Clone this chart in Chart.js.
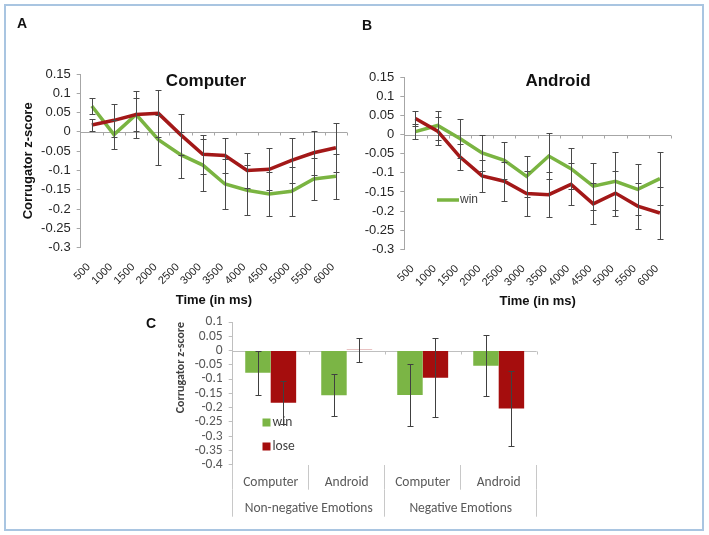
<!DOCTYPE html>
<html><head><meta charset="utf-8">
<script src="https://cdn.jsdelivr.net/npm/chart.js@4.4.1/dist/chart.umd.min.js"></script>
<style>
html,body{margin:0;padding:0;background:#fff;}
#fig{position:relative;width:709px;height:535px;overflow:hidden;background:#fff;}
#frame{position:absolute;left:4px;top:4px;width:696px;height:523px;border:2px solid #a9c5e1;}
canvas{position:absolute;}
.panel{position:absolute;font:bold 14px "Liberation Sans",Arial,sans-serif;line-height:14px;color:#111;}
</style></head><body>
<div id="fig">
<div id="frame"></div>
<canvas id="cA" width="360" height="320" style="left:0;top:0"></canvas>
<canvas id="cB" width="359" height="320" style="left:350px;top:0"></canvas>
<canvas id="cC" width="420" height="235" style="left:140px;top:300px"></canvas>
<div class="panel" style="left:17px;top:16px">A</div>
<div class="panel" style="left:362px;top:18px">B</div>
<div class="panel" style="left:146px;top:316px">C</div>
</div>
<script>
// ---------- data ----------
const timeLabels = ['500','1000','1500','2000','2500','3000','3500','4000','4500','5000','5500','6000'];
const lineTicks = [0.15, 0.1, 0.05, 0, -0.05, -0.1, -0.15, -0.2, -0.25, -0.3];

const computerWin     = [0.067, -0.007, 0.045, -0.020, -0.059, -0.086, -0.135, -0.151, -0.161, -0.154, -0.122, -0.115];
const computerWinErr  = [0.020, 0.038, 0.042, 0.065, 0.060, 0.068, 0.065, 0.064, 0.057, 0.064, 0.055, 0.058];
const computerLose    = [0.018, 0.030, 0.045, 0.048, -0.007, -0.058, -0.061, -0.100, -0.097, -0.074, -0.054, -0.041];
const computerLoseErr = [0.015, 0.042, 0.060, 0.060, 0.053, 0.050, 0.045, 0.046, 0.054, 0.058, 0.057, 0.063];

const androidWin      = [0.008, 0.024, -0.010, -0.048, -0.067, -0.109, -0.056, -0.089, -0.135, -0.122, -0.143, -0.115];
const androidWinErr   = [0.020, 0.038, 0.052, 0.046, 0.049, 0.054, 0.060, 0.054, 0.062, 0.076, 0.066, 0.069];
const androidLose     = [0.042, 0.009, -0.058, -0.108, -0.122, -0.154, -0.157, -0.130, -0.181, -0.153, -0.187, -0.205];
const androidLoseErr  = [0.020, 0.036, 0.034, 0.042, 0.051, 0.058, 0.058, 0.055, 0.054, 0.059, 0.060, 0.067];

const barLabels   = ['Computer', 'Android', 'Computer', 'Android'];
const groupLabels = ['Non-negative Emotions', 'Negative Emotions'];
const barTicks    = [0.1, 0.05, 0, -0.05, -0.1, -0.15, -0.2, -0.25, -0.3, -0.35, -0.4];
const barWin      = [-0.078, -0.157, -0.156, -0.053];
const barWinErr   = [0.077, 0.074, 0.108, 0.108];
const barLose     = [-0.183, 0.003, -0.095, -0.203];
const barLoseErr  = [0.075, 0.042, 0.138, 0.130];

// ---------- styles ----------
const GREEN = '#7ab441', RED = '#a31818';
const GREEN_BAR = '#7bb545', RED_BAR = '#a50d0d';
const ARIAL = '"Liberation Sans", Arial, sans-serif';
const CAL = 'Carlito, Lato, sans-serif';
const fmt = v => Math.abs(v) < 1e-9 ? '0' : String(+v.toFixed(2));

// ---------- plugins ----------
const errorBars = {
  id: 'errorBars',
  afterDatasetsDraw(chart, args, o) {
    const ctx = chart.ctx, ys = chart.scales.y;
    ctx.save();
    ctx.strokeStyle = o.color; ctx.lineWidth = o.width;
    chart.data.datasets.forEach((ds, i) => {
      if (!ds.errors) return;
      chart.getDatasetMeta(i).data.forEach((el, j) => {
        const v = ds.data[j], e = ds.errors[j];
        const x = Math.round(el.x) + 0.5;
        const t = Math.round(ys.getPixelForValue(v + e)) + 0.5;
        const b = Math.round(ys.getPixelForValue(v - e)) + 0.5;
        ctx.beginPath();
        ctx.moveTo(x, t); ctx.lineTo(x, b);
        ctx.moveTo(x - o.cap, t); ctx.lineTo(x + o.cap, t);
        ctx.moveTo(x - o.cap, b); ctx.lineTo(x + o.cap, b);
        ctx.stroke();
      });
    });
    ctx.restore();
  }
};
const zeroAxis = {
  id: 'zeroAxis',
  beforeDatasetsDraw(chart, args, o) {
    const ctx = chart.ctx, xs = chart.scales.x, ca = chart.chartArea;
    const y0 = Math.round(chart.scales.y.getPixelForValue(0)) + 0.5;
    ctx.save();
    ctx.strokeStyle = o.color; ctx.lineWidth = 1;
    ctx.beginPath();
    ctx.moveTo(ca.left, y0); ctx.lineTo(ca.right, y0);
    for (let i = 1; i <= xs.ticks.length; i++) {
      const px = Math.round(xs.getPixelForValue(i - 0.5)) + 0.5;
      ctx.moveTo(px, y0); ctx.lineTo(px, y0 + o.tick);
    }
    ctx.stroke();
    ctx.restore();
  }
};
const overlay = {
  id: 'overlay',
  afterDraw(chart, args, o) {
    const ctx = chart.ctx;
    ctx.save();
    (o.texts || []).forEach(t => {
      ctx.font = t.font; ctx.fillStyle = t.color;
      ctx.textAlign = 'center'; ctx.textBaseline = 'middle';
      ctx.fillText(t.text, t.x, t.y);
    });
    const lg = o.legend;
    if (lg) {
      lg.show.forEach((di, k) => {
        const ds = chart.data.datasets[di];
        const y = lg.y + k * lg.rowGap;
        if (lg.marker === 'line') {
          ctx.strokeStyle = ds.borderColor; ctx.lineWidth = 3.5;
          ctx.beginPath(); ctx.moveTo(lg.x, y); ctx.lineTo(lg.x + lg.len, y); ctx.stroke();
        } else {
          ctx.fillStyle = ds.backgroundColor;
          ctx.fillRect(lg.x, y - lg.len / 2, lg.len, lg.len);
        }
        ctx.font = lg.font; ctx.fillStyle = lg.color;
        ctx.textAlign = 'left'; ctx.textBaseline = 'middle';
        ctx.fillText(ds.label, lg.x + lg.len + lg.gap, y);
      });
    }
    ctx.restore();
  }
};

// ---------- line charts ----------
function lineChart(id, win, winErr, lose, loseErr, L) {
  return new Chart(document.getElementById(id), {
    type: 'line',
    data: {
      labels: timeLabels,
      datasets: [
        { label: 'win', data: win, errors: winErr, borderColor: GREEN, backgroundColor: GREEN,
          borderWidth: 3.5, pointRadius: 0, tension: 0, fill: false, order: 1 },
        { label: 'lose', data: lose, errors: loseErr, borderColor: RED, backgroundColor: RED,
          borderWidth: 3.5, pointRadius: 0, tension: 0, fill: false, order: 0 }
      ]
    },
    options: {
      responsive: false, animation: false, devicePixelRatio: 1,
      layout: { padding: L.pad },
      plugins: {
        legend: { display: false }, tooltip: { enabled: false },
        errorBars: { color: '#4a4a4a', width: 1, cap: 3 },
        zeroAxis: { color: '#a6a6a6', tick: 3 },
        overlay: { texts: [{ text: L.title, x: L.titleX, y: 81, font: 'bold 17px ' + ARIAL, color: '#111' }],
                   legend: L.legend }
      },
      scales: {
        x: {
          type: 'category', offset: true,
          grid: { display: false, drawTicks: false }, border: { display: false },
          ticks: { autoSkip: false, minRotation: 45, maxRotation: 45, padding: 13, labelOffset: -3,
                   color: '#262626', font: { family: ARIAL, size: 11 } },
          title: { display: true, text: 'Time (in ms)', color: '#111', padding: 0,
                   font: { family: ARIAL, size: 13, weight: 'bold' } },
          afterFit: s => { s.height = L.xH; }
        },
        y: {
          min: -0.3, max: 0.15,
          afterBuildTicks: s => { s.ticks = lineTicks.map(v => ({ value: v })); },
          ticks: { autoSkip: false, padding: 6, color: '#262626', font: { family: ARIAL, size: 13 }, callback: v => fmt(v) },
          grid: { drawOnChartArea: false, drawTicks: true, tickLength: 4, color: '#a6a6a6' },
          border: { color: '#a6a6a6' },
          title: { display: L.yTitle, text: 'Corrugator z-score', color: '#111', padding: 0,
                   font: { family: ARIAL, size: 13, weight: 'bold' } },
          afterFit: s => { s.width = L.yW; }
        }
      }
    },
    plugins: [errorBars, zeroAxis, overlay]
  });
}

lineChart('cA', computerWin, computerWinErr, computerLose, computerLoseErr, {
  pad: { left: 20.2, right: 13, top: 74, bottom: 12.2 }, yW: 60.5, xH: 60.1,
  title: 'Computer', titleX: 206, yTitle: true, legend: null
});
lineChart('cB', androidWin, androidWinErr, androidLose, androidLoseErr, {
  pad: { left: 10, right: 38, top: 77.3, bottom: 10.5 }, yW: 44.3, xH: 60.2,
  title: 'Android', titleX: 208, yTitle: false,
  legend: { show: [0], marker: 'line', x: 87, y: 200, len: 22, gap: 1, rowGap: 0,
            font: '12px ' + ARIAL, color: '#404040' }
});

// ---------- bar chart ----------
new Chart(document.getElementById('cC'), {
  type: 'bar',
  data: {
    labels: barLabels,
    datasets: [
      { label: 'win', data: barWin, errors: barWinErr, backgroundColor: GREEN_BAR,
        categoryPercentage: 0.67, barPercentage: 1 },
      { label: 'lose', data: barLose, errors: barLoseErr, backgroundColor: RED_BAR,
        categoryPercentage: 0.67, barPercentage: 1 }
    ]
  },
  options: {
    responsive: false, animation: false, devicePixelRatio: 1,
    layout: { padding: { left: 33.6, right: 23.3, top: 22, bottom: 18.3 } },
    plugins: {
      legend: { display: false }, tooltip: { enabled: false },
      errorBars: { color: '#404040', width: 1, cap: 3 },
      zeroAxis: { color: '#bfbfbf', tick: 3 },
      overlay: { legend: { show: [0, 1], marker: 'box', x: 122.5, y: 122.5, len: 8, gap: 2, rowGap: 24,
                           font: '13.5px ' + CAL, color: '#404040' } }
    },
    scales: {
      x: {
        offset: true,
        grid: { display: true, drawOnChartArea: false, drawTicks: true, tickLength: 25, offset: true, color: '#c8c8c8' },
        border: { display: false },
        ticks: { padding: -15, color: '#595959', font: { family: CAL, size: 13.5 } },
        afterFit: s => { s.height = 25; }
      },
      x2: {
        type: 'category', labels: groupLabels, position: 'bottom', offset: true,
        grid: { display: true, drawOnChartArea: false, drawTicks: true, tickLength: 27, offset: true, color: '#c8c8c8' },
        border: { display: false },
        ticks: { padding: -16, color: '#595959', font: { family: CAL, size: 13.5 } },
        afterFit: s => { s.height = 27; }
      },
      y: {
        min: -0.4, max: 0.1,
        afterBuildTicks: s => { s.ticks = barTicks.map(v => ({ value: v })); },
        ticks: { autoSkip: false, padding: 6, color: '#595959', font: { family: CAL, size: 13.5 }, callback: v => fmt(v) },
        grid: { drawOnChartArea: false, drawTicks: true, tickLength: 4, color: '#bfbfbf' },
        border: { color: '#bfbfbf' },
        title: { display: true, text: 'Corrugator z-score', align: 'end', color: '#404040', padding: 0,
                 font: { family: CAL, size: 12, weight: 'bold' } },
        afterFit: s => { s.width = 59.1; }
      }
    }
  },
  plugins: [errorBars, zeroAxis, overlay]
});
</script>
</body></html>
